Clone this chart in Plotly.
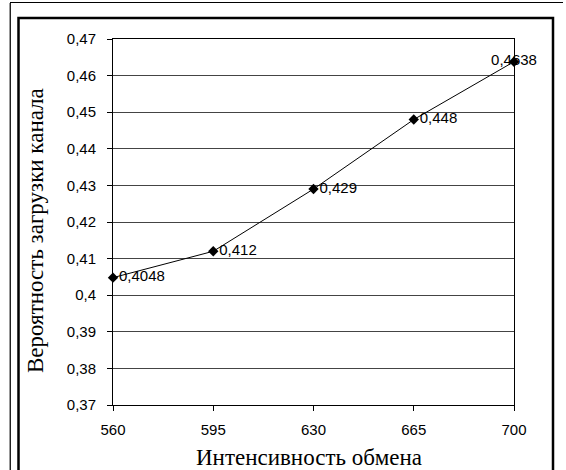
import plotly.graph_objects as go

x_vals = [560, 595, 630, 665, 700]
y_vals = [0.4048, 0.412, 0.429, 0.448, 0.4638]
point_labels = ["0,4048", "0,412", "0,429", "0,448", "0,4638"]
label_pos = ["middle right", "middle right", "middle right", "middle right", "middle center"]
y_ticks = [0.37, 0.38, 0.39, 0.40, 0.41, 0.42, 0.43, 0.44, 0.45, 0.46, 0.47]
y_tick_text = ["0,37", "0,38", "0,39", "0,4", "0,41", "0,42", "0,43", "0,44", "0,45", "0,46", "0,47"]
x_ticks = [560, 595, 630, 665, 700]
x_title = "Интенсивность обмена"
y_title = "Вероятность загрузки канала"
top_text = "ть обмена (рис. 4)"

W, H = 566, 470
L, R, T, B = 113, 514, 39, 405  # plot area pixel bounds


def px(xp):
    return (xp - L) / (R - L)


def py(yp):
    return (B - yp) / (B - T)


fig = go.Figure()
fig.add_trace(go.Scatter(
    x=x_vals, y=y_vals, mode="lines+markers+text",
    line=dict(color="black", width=1),
    marker=dict(symbol="diamond", size=8, color="black"),
    text=point_labels, textposition=label_pos,
    textfont=dict(family="Liberation Sans, Arial", size=15, color="black"),
    cliponaxis=False, showlegend=False,
))

sans = "Liberation Sans, Arial"
serif = "Liberation Serif, Times New Roman"

fig.update_layout(
    width=W, height=H,
    margin=dict(l=L, r=W - R, t=T, b=H - B),
    paper_bgcolor="white", plot_bgcolor="white",
    xaxis=dict(
        range=[560, 700], tickvals=x_ticks, ticktext=[str(v) for v in x_ticks],
        showgrid=False, zeroline=False, showline=True, linecolor="black", linewidth=1,
        mirror=True, ticks="outside", ticklen=5, tickcolor="black",
        tickfont=dict(family=sans, size=15, color="black"), ticklabelstandoff=6,
    ),
    yaxis=dict(
        range=[0.37, 0.47], tickvals=y_ticks, ticktext=y_tick_text,
        showgrid=True, gridcolor="#444444", gridwidth=1, zeroline=False,
        showline=True, linecolor="black", linewidth=1, mirror=True,
        ticks="outside", ticklen=5, tickcolor="black",
        tickfont=dict(family=sans, size=15, color="black"), ticklabelstandoff=8,
    ),
    annotations=[
        dict(text=x_title, xref="paper", yref="paper", x=px(309), y=py(457),
             xanchor="center", yanchor="middle", showarrow=False,
             font=dict(family=serif, size=23, color="black")),
        dict(text=y_title, xref="paper", yref="paper", x=px(35), y=py(231),
             xanchor="center", yanchor="middle", showarrow=False, textangle=-90,
             font=dict(family=serif, size=23, color="black")),
        dict(text=top_text, xref="paper", yref="paper", x=px(0), y=py(-4),
             xanchor="left", yanchor="bottom", showarrow=False,
             font=dict(family=serif, size=23, color="black")),
    ],
    shapes=[
        dict(type="rect", xref="paper", yref="paper", x0=px(18.5), x1=px(553),
             y0=py(485), y1=py(18), line=dict(color="black", width=2.5)),
        dict(type="line", xref="paper", yref="paper", x0=px(9.5), x1=px(9.5),
             y0=py(3), y1=py(475), line=dict(color="#999999", width=1)),
        dict(type="line", xref="paper", yref="paper", x0=px(10.5), x1=px(10.5),
             y0=py(3), y1=py(475), line=dict(color="#222222", width=1)),
        dict(type="line", xref="paper", yref="paper", x0=px(10), x1=px(563),
             y0=py(2.5), y1=py(2.5), line=dict(color="black", width=1)),
    ],
)

fig.write_html(
    "out.html",
    config={"displayModeBar": False},
    post_script="document.body.style.margin='0';document.body.style.padding='0';"
                "document.body.style.overflow='hidden';",
)
